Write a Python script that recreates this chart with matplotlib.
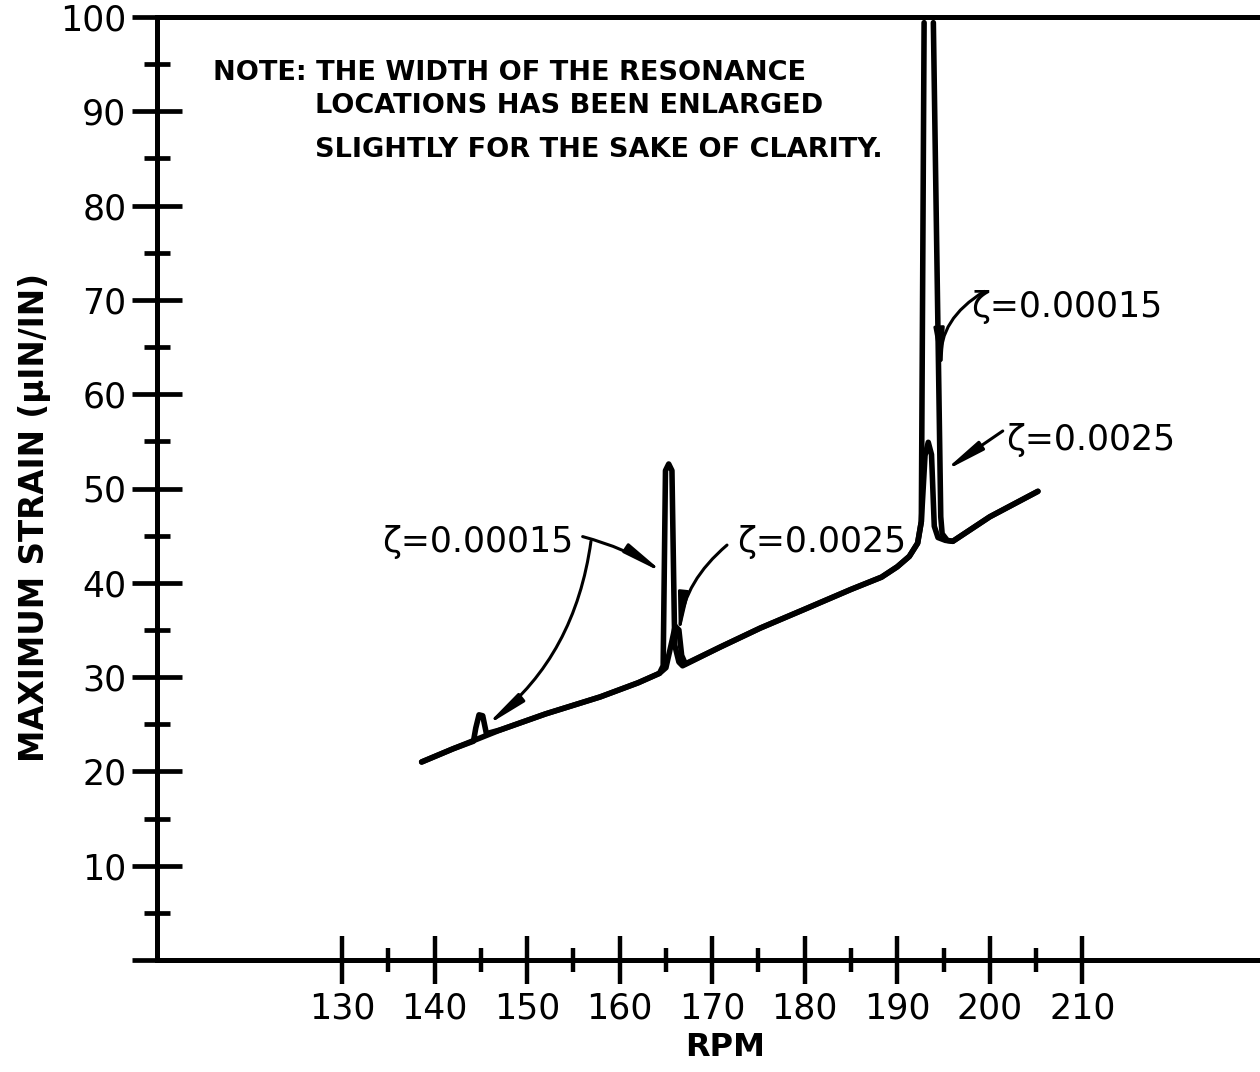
import numpy as np
import matplotlib
matplotlib.use("Agg")
import matplotlib.pyplot as plt
from matplotlib.ticker import FixedLocator, FixedFormatter

# strain response, light damping (zeta = 0.00015); nan breaks the spike that runs off the top
rpm_light = [138.6, 142.0, 144.2, 144.45, 144.8, 145.2, 145.6, 147.1, 152.0, 157.9, 162.0,
             164.3, 164.7, 164.95, 165.3, 165.65, 165.95, 166.4, 166.8, 170.9, 175.2,
             180.0, 185.0, 188.3, 190.0, 191.3, 192.2, 192.6, 192.9, np.nan,
             193.9, 194.7, 194.85, 195.4, 196.0, 200.0, 205.2]
strain_light = [21.0, 22.4, 23.2, 24.6, 26.0, 25.9, 24.0, 24.4, 26.1, 27.9, 29.4,
                30.4, 31.2, 51.9, 52.6, 51.9, 33.4, 31.6, 31.2, 33.2, 35.2,
                37.2, 39.3, 40.6, 41.7, 42.8, 44.2, 46.5, 99.4, np.nan,
                99.4, 47.0, 45.2, 44.5, 44.4, 47.0, 49.7]

# strain response, heavier damping (zeta = 0.0025)
rpm_heavy = [138.6, 142.0, 147.1, 152.0, 157.9, 162.0, 164.3, 165.0, 165.6, 166.0,
             166.4, 166.7, 167.1, 170.9, 175.2, 180.0, 185.0, 188.3, 190.0, 191.3,
             192.2, 192.6, 193.0, 193.35, 193.7, 194.0, 194.4, 195.2, 196.0, 200.0, 205.2]
strain_heavy = [21.0, 22.4, 24.4, 26.1, 27.9, 29.4, 30.4, 31.0, 33.6, 35.4,
                35.0, 32.3, 31.4, 33.2, 35.2, 37.2, 39.3, 40.6, 41.7, 42.8,
                44.2, 46.5, 53.5, 54.9, 53.6, 46.0, 44.8, 44.5, 44.4, 47.0, 49.7]

x_major = [130, 140, 150, 160, 170, 180, 190, 200, 210]
x_minor = [135, 145, 155, 165, 175, 185, 195, 205]
y_major = [0, 10, 20, 30, 40, 50, 60, 70, 80, 90, 100]
y_minor = [5, 15, 25, 35, 45, 55, 65, 75, 85, 95]
y_labels = ['', '10', '20', '30', '40', '50', '60', '70', '80', '90', '100']

# damping labels and their pointer lines: (start of pointer), (tip), curvature
labels = ["\u03b6=0.00015", "\u03b6=0.0025", "\u03b6=0.00015", "\u03b6=0.0025"]
label_xy = [(134.3, 44.3), (172.7, 44.3), (198.0, 69.2), (201.8, 55.1)]
pointers = [
    ((156.0, 44.9), (164.8, 41.0), -0.08),
    ((156.9, 44.4), (145.5, 24.8), -0.2),
    ((171.6, 44.0), (166.4, 34.3), 0.2),
    ((199.4, 70.9), (194.8, 62.3), 0.3),
    ((201.4, 56.1), (195.0, 51.8), 0.0),
]

note_lines = ["NOTE: THE WIDTH OF THE RESONANCE",
              "LOCATIONS HAS BEEN ENLARGED",
              "SLIGHTLY FOR THE SAKE OF CLARITY."]

plt.rcParams['font.family'] = ['DejaVu Sans']

fig = plt.figure(figsize=(12.6, 10.72), dpi=100)
ax = fig.add_axes([157 / 1260, 112 / 1072, 1103 / 1260, 943 / 1072])
ax.set_xlim(110, 229.2)
ax.set_ylim(0, 100)

lw = 4.0
ax.plot(rpm_heavy, strain_heavy, color='black', lw=lw, solid_capstyle='round',
        solid_joinstyle='round', clip_on=False)
ax.plot(rpm_light, strain_light, color='black', lw=lw, solid_capstyle='round',
        solid_joinstyle='round', clip_on=False)

for side in ['left', 'bottom', 'top']:
    ax.spines[side].set_linewidth(3.6)
ax.spines['right'].set_visible(False)

ax.xaxis.set_major_locator(FixedLocator(x_major))
ax.xaxis.set_minor_locator(FixedLocator(x_minor))
ax.yaxis.set_major_locator(FixedLocator(y_major))
ax.yaxis.set_minor_locator(FixedLocator(y_minor))
ax.yaxis.set_major_formatter(FixedFormatter(y_labels))
ax.tick_params(axis='x', which='major', direction='inout', length=34, width=3.2,
               labelsize=25, pad=6)
ax.tick_params(axis='x', which='minor', direction='inout', length=17, width=3.2)
ax.tick_params(axis='y', which='major', direction='inout', length=36, width=3.4,
               labelsize=25, pad=4)
ax.tick_params(axis='y', which='minor', direction='inout', length=19, width=3.4)

fig.text(35 / 1260, 1 - 517 / 1072, "MAXIMUM STRAIN (\u03bcIN/IN)", rotation=90,
         ha='center', va='center', fontsize=23.5, fontweight='bold')
fig.text(725 / 1260, 1 - 1047 / 1072, "RPM", ha='center', va='center',
         fontsize=23, fontweight='bold')

note_pos = [(0.051, 0.941), (0.143, 0.906), (0.143, 0.859)]
for line, (x, y) in zip(note_lines, note_pos):
    ax.text(x, y, line, transform=ax.transAxes, ha='left', va='center',
            fontsize=19.5, fontweight='bold')

for txt, (x, y) in zip(labels, label_xy):
    ax.text(x, y, txt, ha='left', va='center', fontsize=25)

for start, tip, rad in pointers:
    ax.annotate("", xy=tip, xytext=start,
                arrowprops=dict(arrowstyle="-|>,head_length=2.4,head_width=0.3",
                                connectionstyle=f"arc3,rad={rad}", color='black',
                                lw=2.2, shrinkA=0, shrinkB=0, mutation_scale=10))

fig.savefig("out.png", dpi=100)
